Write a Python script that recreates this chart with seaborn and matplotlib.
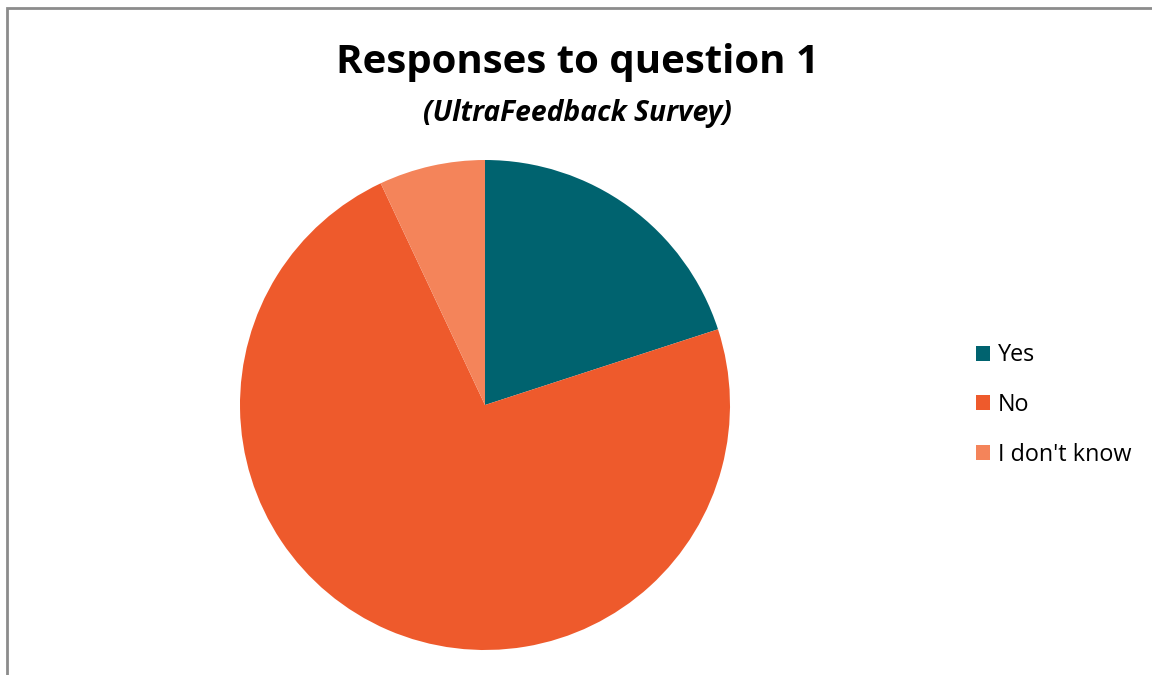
import matplotlib
matplotlib.use('Agg')
import matplotlib.pyplot as plt
from matplotlib.patches import Rectangle, Patch
import seaborn as sns

# answers to question 1 (share of respondents, %)
labels = ['Yes', 'No', "I don't know"]
shares = [20, 73, 7]
colors = ['#00636F', '#EE5A2C', '#F4845A']

sns.set_theme(style='white')
plt.rcParams['font.family'] = ['Open Sans', 'DejaVu Sans']
plt.rcParams['text.color'] = 'black'

fig = plt.figure(figsize=(11.52, 6.75), dpi=100)

# gray frame of the chart area (cut off on right and bottom)
fig.patches.append(Rectangle((6.5 / 1152, -0.05), 1.2, 1 - 7.5 / 675 + 0.05,
                             transform=fig.transFigure, fill=False,
                             edgecolor='#8c8c8c', linewidth=2))

ax = fig.add_axes([240 / 1152, 25 / 675, 490 / 1152, 490 / 675])
ax.pie(shares, colors=sns.color_palette(colors), startangle=90, counterclock=False,
       wedgeprops=dict(linewidth=0))
ax.set_xlim(-1, 1)
ax.set_ylim(-1, 1)
ax.set_aspect('equal')

fig.text(578 / 1152, 1 - 62 / 675, 'Responses to question 1', ha='center', va='center',
         fontsize=29, fontweight='bold', color='black')
fig.text(577 / 1152, 1 - 113 / 675, '(UltraFeedback Survey)', ha='center', va='center',
         fontsize=20.3, fontweight='bold', fontstyle='italic', color='black')

handles = [Patch(facecolor=c, edgecolor='none') for c in colors]
leg = fig.legend(handles, labels, loc='center left', bbox_to_anchor=(955 / 1152, 1 - 405 / 675),
                 frameon=False, fontsize=16.8, handlelength=0.6, handleheight=0.6,
                 handletextpad=0.35, labelspacing=1.1)
for t in leg.get_texts():
    t.set_color('black')

fig.savefig('out.png', dpi=100)
